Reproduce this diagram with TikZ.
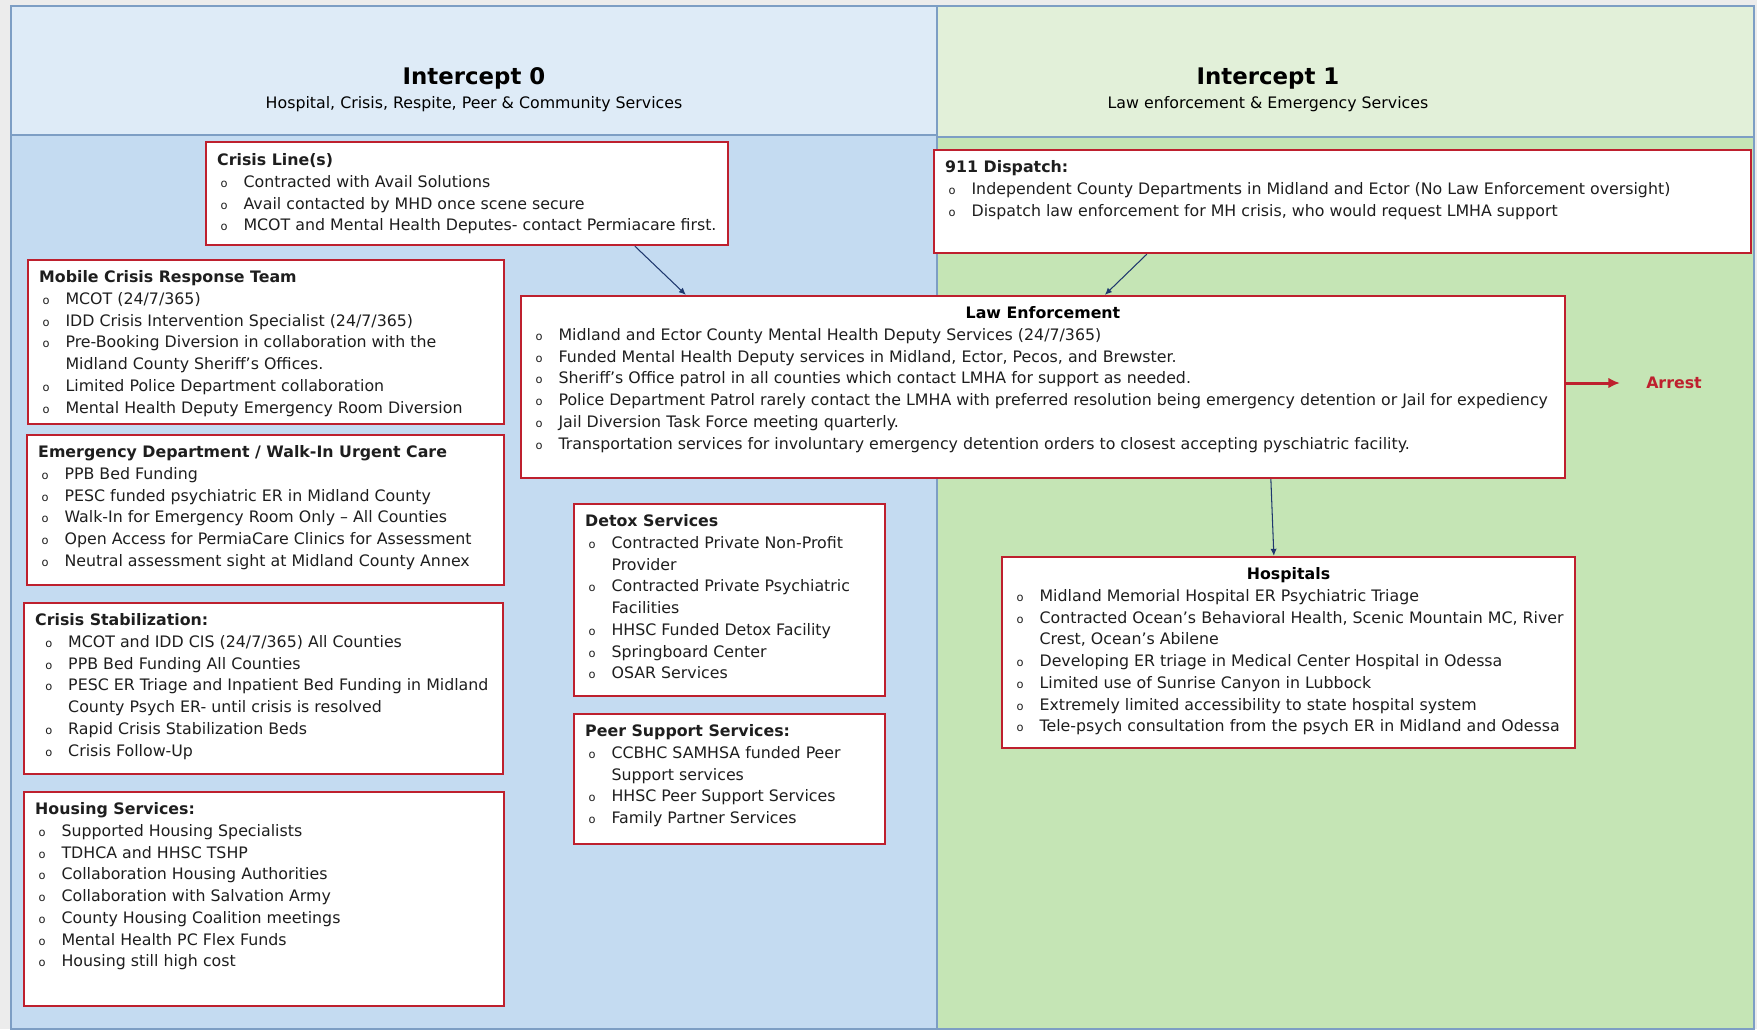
\documentclass[tikz,border=0pt]{standalone}
\usepackage{fontspec}
\setmainfont{DejaVu Sans}
\usetikzlibrary{arrows.meta,fit,calc}
\definecolor{PageGray}{RGB}{236,236,236}
\definecolor{HeadBlue}{RGB}{222,235,247}
\definecolor{BodyBlue}{RGB}{196,219,241}
\definecolor{HeadGreen}{RGB}{226,240,217}
\definecolor{BodyGreen}{RGB}{197,229,181}
\definecolor{FrameBlue}{RGB}{125,158,196}
\definecolor{BoxRed}{RGB}{190,32,46}
\definecolor{LinkNavy}{RGB}{31,56,110}
\definecolor{InkGray}{RGB}{30,30,30}
\newcommand{\itm}{\makebox[15pt][l]{\hspace{2pt}{\fontsize{6.5}{6.5}\selectfont o}}}
\newcommand{\cnt}{\hspace*{15pt}}

\begin{document}
\begin{tikzpicture}[
  x=0.02cm, y=-0.02cm,
  region/.style={draw=FrameBlue, line width=0.6pt, inner sep=0pt},
  panel/.style={draw=BoxRed, line width=1.3pt, fill=white, inner sep=0pt},
  body/.style={anchor=north west, align=left, inner sep=0pt, text=InkGray, font=\fontsize{9}{12.4}\selectfont},
  boxtitle/.style={anchor=north, inner sep=0pt, font=\fontsize{9}{12.4}\selectfont\bfseries},
  hdtitle/.style={anchor=base, inner sep=0pt, font=\fontsize{13}{15}\selectfont\bfseries},
  hdsub/.style={anchor=base, inner sep=0pt, font=\fontsize{9}{11}\selectfont},
  link/.style={-{Latex[length=4pt,width=3.5pt]}, draw=LinkNavy, line width=0.6pt},
  arrest/.style={-{Latex[length=6.5pt,width=6pt]}, draw=BoxRed, line width=1.7pt}
]
\useasboundingbox (0,0) rectangle (1757,1029);
\fill[PageGray] (0,0) rectangle (1757,1029);

% columns
\node[region, fill=BodyBlue, fit={(11,135) (937,1029)}] (col0) {};
\node[region, fill=BodyGreen, fit={(937,137) (1754,1029)}] (col1) {};
\node[region, fill=HeadBlue, fit={(11,6) (937,135)}] (hdr0) {};
\node[region, fill=HeadGreen, fit={(937,6) (1754,137)}] (hdr1) {};

\node[hdtitle] (title0) at (474,84) {Intercept 0};
\node[hdsub] (sub0) at (474,108) {Hospital, Crisis, Respite, Peer \& Community Services};
\node[hdtitle] (title1) at (1268,84) {Intercept 1};
\node[hdsub] (sub1) at (1268,108) {Law enforcement \& Emergency Services};

% boxes
\node[panel, fit={(206,142) (728,245)}] (crisisline) {};
\node[panel, fit={(934,150) (1751,253)}] (dispatch) {};
\node[panel, fit={(28,260) (504,424)}] (mobile) {};
\node[panel, fit={(521,296) (1565,478)}] (lawenf) {};
\node[panel, fit={(27,435) (504,585)}] (emergency) {};
\node[panel, fit={(574,504) (885,696)}] (detox) {};
\node[panel, fit={(1002,557) (1575,748)}] (hospitals) {};
\node[panel, fit={(24,603) (503,774)}] (stabil) {};
\node[panel, fit={(574,714) (885,844)}] (peer) {};
\node[panel, fit={(24,792) (504,1006)}] (housing) {};

\node[body] (crisislinetxt) at ($(crisisline.north west)+(12,9)$) {\strut\textbf{Crisis Line(s)}\\
  \itm Contracted with Avail Solutions\\
  \itm Avail contacted by MHD once scene secure\\
  \itm MCOT and Mental Health Deputes- contact Permiacare first.};

\node[body] (dispatchtxt) at ($(dispatch.north west)+(12,8)$) {\strut\textbf{911 Dispatch:}\\
  \itm Independent County Departments in Midland and Ector (No Law Enforcement oversight)\\
  \itm Dispatch law enforcement for MH crisis, who would request LMHA support};

\node[body] (mobiletxt) at ($(mobile.north west)+(12,8)$) {\strut\textbf{Mobile Crisis Response Team}\\
  \itm MCOT (24/7/365)\\
  \itm IDD Crisis Intervention Specialist (24/7/365)\\
  \itm Pre-Booking Diversion in collaboration with the\\
  \cnt Midland County Sheriff’s Offices.\\
  \itm Limited Police Department collaboration\\
  \itm Mental Health Deputy Emergency Room Diversion};

\node[boxtitle] (lawenftitle) at ($(lawenf.north)+(0,8)$) {\strut Law Enforcement};
\node[body] (lawenftxt) at ($(lawenf.north west)+(12,8)$) {\strut\\
  \itm Midland and Ector County Mental Health Deputy Services (24/7/365)\\
  \itm Funded Mental Health Deputy services in Midland, Ector, Pecos, and Brewster.\\
  \itm Sheriff’s Office patrol in all counties which contact LMHA for support as needed.\\
  \itm Police Department Patrol rarely contact the LMHA with preferred resolution being emergency detention or Jail for expediency\\
  \itm Jail Diversion Task Force meeting quarterly.\\
  \itm Transportation services for involuntary emergency detention orders to closest accepting pyschiatric facility.};

\node[body] (emergencytxt) at ($(emergency.north west)+(12,8)$) {\strut\textbf{Emergency Department / Walk-In Urgent Care}\\
  \itm PPB Bed Funding\\
  \itm PESC funded psychiatric ER in Midland County\\
  \itm Walk-In for Emergency Room Only – All Counties\\
  \itm Open Access for PermiaCare Clinics for Assessment\\
  \itm Neutral assessment sight at Midland County Annex};

\node[body] (detoxtxt) at ($(detox.north west)+(12,8)$) {\strut\textbf{Detox Services}\\
  \itm Contracted Private Non-Profit\\
  \cnt Provider\\
  \itm Contracted Private Psychiatric\\
  \cnt Facilities\\
  \itm HHSC Funded Detox Facility\\
  \itm Springboard Center\\
  \itm OSAR Services};

\node[boxtitle] (hospitalstitle) at ($(hospitals.north)+(0,8)$) {\strut Hospitals};
\node[body] (hospitalstxt) at ($(hospitals.north west)+(12,8)$) {\strut\\
  \itm Midland Memorial Hospital ER Psychiatric Triage\\
  \itm Contracted Ocean’s Behavioral Health, Scenic Mountain MC, River\\
  \cnt Crest, Ocean’s Abilene\\
  \itm Developing ER triage in Medical Center Hospital in Odessa\\
  \itm Limited use of Sunrise Canyon in Lubbock\\
  \itm Extremely limited accessibility to state hospital system\\
  \itm Tele-psych consultation from the psych ER in Midland and Odessa};

\node[body] (stabiltxt) at ($(stabil.north west)+(12,8)$) {\strut\textbf{Crisis Stabilization:}\\
  \hspace*{3.8pt}\itm MCOT and IDD CIS (24/7/365) All Counties\\
  \hspace*{3.8pt}\itm PPB Bed Funding All Counties\\
  \hspace*{3.8pt}\itm PESC ER Triage and Inpatient Bed Funding in Midland\\
  \hspace*{18.8pt}County Psych ER- until crisis is resolved\\
  \hspace*{3.8pt}\itm Rapid Crisis Stabilization Beds\\
  \hspace*{3.8pt}\itm Crisis Follow-Up};

\node[body] (peertxt) at ($(peer.north west)+(12,8)$) {\strut\textbf{Peer Support Services:}\\
  \itm CCBHC SAMHSA funded Peer\\
  \cnt Support services\\
  \itm HHSC Peer Support Services\\
  \itm Family Partner Services};

\node[body] (housingtxt) at ($(housing.north west)+(12,8)$) {\strut\textbf{Housing Services:}\\
  \itm Supported Housing Specialists\\
  \itm TDHCA and HHSC TSHP\\
  \itm Collaboration Housing Authorities\\
  \itm Collaboration with Salvation Army\\
  \itm County Housing Coalition meetings\\
  \itm Mental Health PC Flex Funds\\
  \itm Housing still high cost};

\node[font=\fontsize{9}{11}\selectfont\bfseries, text=BoxRed, inner sep=0pt] (arrestlbl) at (1674,383) {Arrest};

% connectors
\draw[link] ($(crisisline.south west)+(430,0)$) -- ($(lawenf.north west)+(166,0)$);
\draw[link] ($(dispatch.south west)+(214,0)$) -- ($(lawenf.north west)+(585,0)$);
\draw[link] ($(lawenf.south west)+(751,0)$) -- ($(hospitals.north west)+(273,0)$);
\draw[arrest] (lawenf.east |- arrestlbl.center) -- ($(arrestlbl.west)+(-26,0)$);
\end{tikzpicture}
\end{document}
